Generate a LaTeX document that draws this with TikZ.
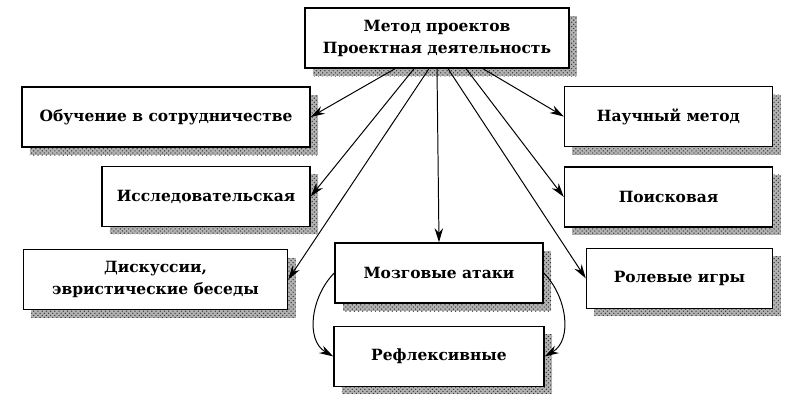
\documentclass[tikz,border=0pt]{standalone}
\usepackage{fontspec}
\setmainfont{DejaVu Serif}
\usetikzlibrary{positioning, arrows.meta, shadows, patterns}

\tikzset{
  box/.style={draw, line width=1pt, fill=white, align=center,
    font=\bfseries\fontsize{11}{15.6}\selectfont,
    minimum height=1.5cm, inner sep=2pt,
    general shadow={fill=black!30,
      postaction={pattern=crosshatch dots, pattern color=black!80},
      shadow xshift=0.2cm, shadow yshift=-0.2cm}},
  link/.style={->, line width=0.7pt}
}

\begin{document}
\begin{tikzpicture}[x=0.025cm, y=-0.025cm, >={Stealth[length=10pt,width=6pt]}]
        \useasboundingbox (0,0) rectangle (796,404);
        \node[box, minimum width=6.6cm] (metod) at (437,38) {Метод проектов\\Проектная деятельность};
        \node[box, minimum width=7.2cm] (obuch) at (166,117) {Обучение в сотрудничестве};
        \node[box, minimum width=5.2cm] (issled) [below=0.45cm of obuch.south east, anchor=north east] {Исследовательская};
        \node[box, minimum width=6.6cm] (disk) at (155.5,279.5) {Дискуссии,\\эвристические беседы};
        \node[box, minimum width=5.2cm] (mozg) at (439,273) {Мозговые атаки};
        \node[box, minimum width=5.25cm] (refl) [below=0.55cm of mozg] {Рефлексивные};
        \node[box, minimum width=5.2cm] (nauch) at (668.5,116.5) {Научный метод};
        \node[box, minimum width=5.2cm] (poisk) [below=0.475cm of nauch] {Поисковая};
        \node[box, minimum width=4.65cm] (rolev) [below=0.5cm of poisk.south east, anchor=north east] {Ролевые игры};
        \path[link]
                ([xshift=-1.05cm]metod.south) edge (obuch.east)
                ([xshift=-0.575cm]metod.south) edge (issled.east)
                ([xshift=-0.2cm]metod.south) edge (disk.east)
                (metod.south) edge (mozg.north)
                ([xshift=0.275cm]metod.south) edge (rolev.west)
                ([xshift=0.725cm]metod.south) edge (poisk.west)
                ([xshift=1.15cm]metod.south) edge (nauch.west)
                (mozg.west) edge [out=225, in=150] (refl.west)
                (mozg.east) edge [out=-45, in=30] (refl.east);
\end{tikzpicture}
\end{document}
